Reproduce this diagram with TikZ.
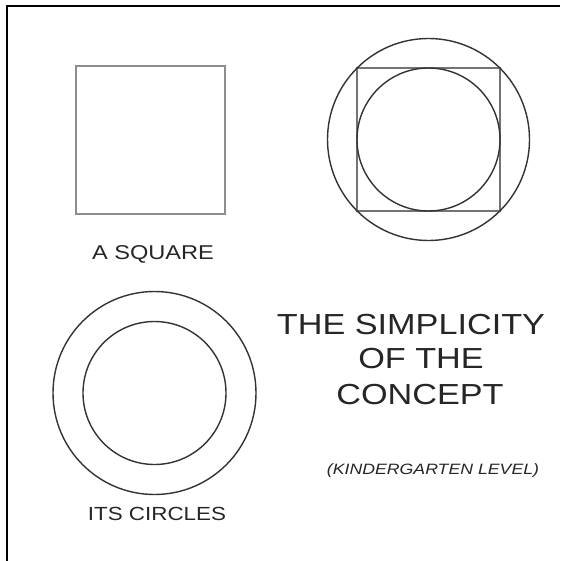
\documentclass[tikz,border=0pt]{standalone}
\usepackage{fontspec}
\setmainfont{Liberation Sans}
\newcommand\widetext[1]{\scalebox{1.18}[1]{#1}}
\begin{document}
\begin{tikzpicture}[x=1pt,y=-1pt,
  lbl/.style={font=\fontsize{20}{24}\selectfont,text=black!85,inner sep=0pt},
  ttl/.style={font=\fontsize{29}{34}\selectfont,text=black!85,inner sep=0pt},
  ring/.style={draw=black!80,line width=1.4pt},
  box/.style={draw=black!45,line width=1.3pt}]
\useasboundingbox (0,0) rectangle (560,561);
\fill[white] (0,0) rectangle (560,561);
\draw[line width=2pt] (6.5,561) -- (6.5,6.5) -- (560,6.5);
% the square
\draw[box] (76,66) rectangle (225,214);
\node[lbl] (sq) at (153,254) {\widetext{A SQUARE}};
% square with its circles
\draw[box,draw=black!55] (357,68) rectangle (500,211);
\draw[ring] (428.5,139.5) circle[radius=71.5pt];
\draw[ring] (428.5,139.5) circle[radius=101pt];
% the circles alone
\draw[ring] (154.5,393) circle[radius=71.5pt];
\draw[ring] (154.5,393) circle[radius=101.5pt];
\node[lbl,font=\fontsize{19}{22}\selectfont] (cir) at (157,514) {\widetext{ITS CIRCLES}};
% title
\node[ttl] (t1) at (411,325) {\widetext{THE SIMPLICITY}};
\node[ttl] (t2) at (421,359) {\widetext{OF THE}};
\node[ttl] (t3) at (420,395) {\widetext{CONCEPT}};
\node[lbl,font=\fontsize{15}{18}\selectfont\itshape] (lvl) at (433,471) {\widetext{(KINDERGARTEN LEVEL)}};
\end{tikzpicture}
\end{document}
